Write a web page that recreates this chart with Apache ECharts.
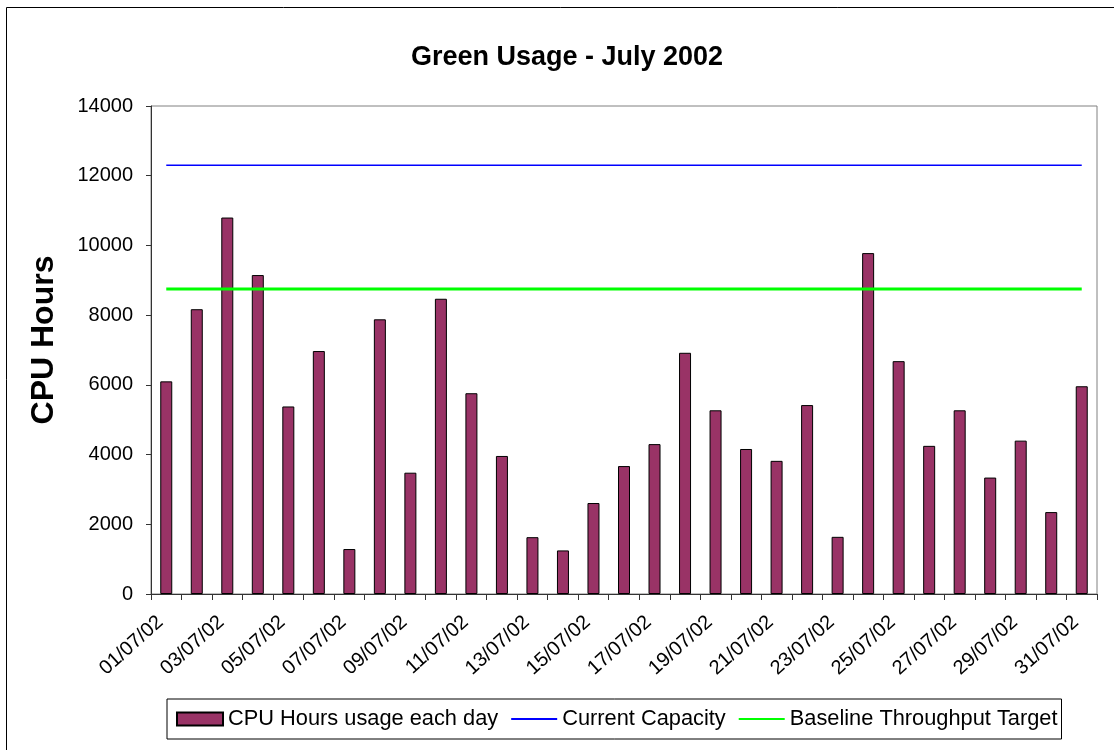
<!DOCTYPE html>
<html>
<head>
<meta charset="utf-8">
<title>Green Usage - July 2002</title>
<script src="https://cdn.jsdelivr.net/npm/echarts@6/dist/echarts.min.js"></script>
<style>
  html, body { margin: 0; padding: 0; background: #fff; }
  #chart { width: 1114px; height: 750px; }
</style>
</head>
<body>
<div id="chart"></div>
<script>
// days of July 2002
var days = [];
for (var d = 1; d <= 31; d++) {
  days.push((d < 10 ? '0' + d : '' + d) + '/07/02');
}
// CPU hours used each day
var cpuHours = [6100, 8170, 10800, 9150, 5380, 6970, 1290, 7880, 3480, 8470,
  5760, 3960, 1630, 1250, 2610, 3670, 4300, 6920, 5270, 4160,
  3820, 5420, 1640, 9780, 6680, 4250, 5270, 3340, 4400, 2350, 5960];
var capacityLevel = 12300;
var targetLevel = 8750;
var capacity = days.map(function () { return capacityLevel; });
var target = days.map(function () { return targetLevel; });

var font = 'Liberation Sans, Arial, sans-serif';
var chart = echarts.init(document.getElementById('chart'), null, { renderer: 'canvas' });

var option = {
  backgroundColor: '#fff',
  animation: false,
  title: {
    text: 'Green Usage - July 2002',
    left: 562,
    top: 39,
    textAlign: 'center',
    textStyle: { fontFamily: font, fontSize: 27, fontWeight: 'bold', color: '#000' }
  },
  grid: {
    left: 151,
    right: 17,
    top: 106,
    bottom: 156,
    show: true,
    borderColor: '#808080',
    borderWidth: 1
  },
  legend: {
    left: 167,
    top: 699,
    padding: [9, 4, 9, 9],
    itemGap: 12,
    itemWidth: 46,
    itemHeight: 13,
    borderColor: '#000',
    borderWidth: 1,
    textStyle: { fontFamily: font, fontSize: 21.8, color: '#000' },
    data: [
      { name: 'CPU Hours usage each day', icon: 'rect' },
      { name: 'Current Capacity', itemStyle: { opacity: 0 } },
      { name: 'Baseline Throughput Target', itemStyle: { opacity: 0 } }
    ]
  },
  xAxis: {
    type: 'category',
    data: days,
    boundaryGap: true,
    axisLine: { lineStyle: { color: '#333', width: 1 } },
    axisTick: { show: true, interval: 0, length: 6, lineStyle: { color: '#333' } },
    axisLabel: {
      interval: 1,
      rotate: 42,
      margin: 20,
      padding: [0, 8, 0, 0],
      fontFamily: font,
      fontSize: 20,
      color: '#000'
    }
  },
  yAxis: {
    type: 'value',
    min: 0,
    max: 14000,
    interval: 2000,
    name: 'CPU Hours',
    nameLocation: 'middle',
    nameGap: 91,
    nameTextStyle: {
      fontFamily: font, fontSize: 32, fontWeight: 'bold', color: '#000',
      padding: [0, 0, 0, 20]
    },
    axisLine: { show: true, lineStyle: { color: '#333', width: 1 } },
    axisTick: { show: true, length: 5, lineStyle: { color: '#333' } },
    axisLabel: {
      margin: 18, fontFamily: font, fontSize: 20, color: '#000',
      formatter: function (v) { return String(v); }
    },
    splitLine: { show: false }
  },
  series: [
    {
      name: 'CPU Hours usage each day',
      type: 'bar',
      data: cpuHours,
      barWidth: 12,
      itemStyle: { color: '#993366', borderColor: '#000', borderWidth: 1 }
    },
    {
      name: 'Current Capacity',
      type: 'line',
      data: capacity,
      symbol: 'none',
      lineStyle: { color: '#0000ff', width: 1.5 },
      itemStyle: { color: '#0000ff' }
    },
    {
      name: 'Baseline Throughput Target',
      type: 'line',
      data: target,
      symbol: 'none',
      lineStyle: { color: '#00ff00', width: 3 },
      itemStyle: { color: '#00ff00' }
    }
  ],
  graphic: [{
    type: 'rect',
    silent: true,
    shape: { x: 6.5, y: 7.5, width: 1200, height: 800 },
    style: { fill: 'none', stroke: '#000', lineWidth: 1 }
  }]
};
chart.setOption(option);
</script>
</body>
</html>
